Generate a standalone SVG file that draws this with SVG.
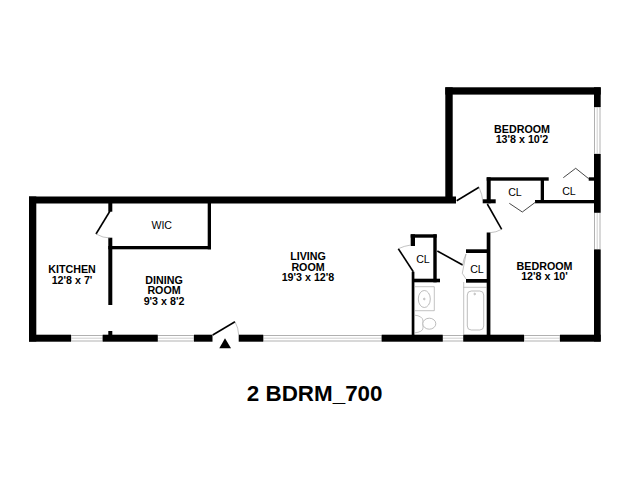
<svg xmlns="http://www.w3.org/2000/svg" width="640" height="480" viewBox="0 0 640 480">
<style>
.w{fill:#000}
.win{fill:#fff;stroke:#a8a8a8;stroke-width:.9}
.wl{stroke:#c4c4c4;stroke-width:.8;fill:none}
.d{stroke:#000;stroke-width:1.6;fill:none}
.a{stroke:#9a9a9a;stroke-width:.6;fill:none}
.c{stroke:#333;stroke-width:.9;fill:none}
.f{stroke:#a0a0a0;stroke-width:.7;fill:#fff}
text{font-family:"Liberation Sans",Arial,sans-serif;text-anchor:middle;fill:#000}
.l{font-size:10.700px;font-weight:bold}
.s{font-size:10.600px}
</style>
<rect width="640" height="480" fill="#fff"/>
<g id="windows">
<rect class="win" x="71" y="335.500" width="32" height="5.500"/><path class="wl" d="M71 338.200H103"/>
<rect class="win" x="157.500" y="335.500" width="36.500" height="5.500"/><path class="wl" d="M157.500 338.200H194"/>
<rect class="win" x="263" y="335.500" width="119" height="5.500"/><path class="wl" d="M263 338.200H382"/>
<rect class="win" x="442.500" y="335.500" width="21" height="5.500"/><path class="wl" d="M442.500 338.200H463.500"/>
<rect class="win" x="524" y="335.500" width="36" height="5.500"/><path class="wl" d="M524 338.200H560"/>
<rect class="win" x="594.500" y="107" width="5.500" height="47"/><path class="wl" d="M597.200 107V154"/>
<rect class="win" x="594.500" y="212.500" width="5.500" height="37"/><path class="wl" d="M597.200 212.500V249.500"/>
</g>
<g id="walls" class="w">
<rect x="29" y="196.500" width="427" height="7"/>
<rect x="29" y="196.500" width="7.300" height="145"/>
<rect x="29" y="334.700" width="42" height="7"/>
<rect x="102.700" y="334.700" width="55" height="7"/>
<rect x="194" y="334.700" width="18.500" height="7"/>
<rect x="238.700" y="334.700" width="24.500" height="7"/>
<rect x="381.700" y="334.700" width="61" height="7"/>
<rect x="463.300" y="334.700" width="60.700" height="7"/>
<rect x="560" y="334.700" width="40.700" height="7"/>
<rect x="445.300" y="87.300" width="155.400" height="7.300"/>
<rect x="445.300" y="87.300" width="7.400" height="112"/>
<rect x="594" y="87.300" width="6.700" height="19.700"/>
<rect x="594" y="154" width="6.700" height="58.700"/>
<rect x="594" y="249.500" width="6.700" height="92"/>
<rect x="108.300" y="203" width="4" height="8.700"/>
<rect x="108.300" y="237.700" width="4" height="67.300"/>
<rect x="108.300" y="331" width="4" height="5"/>
<rect x="108.300" y="246" width="102.700" height="3.300"/>
<rect x="207.700" y="203" width="3.300" height="46.300"/>
<rect x="486.700" y="177.300" width="4" height="26"/>
<rect x="482.700" y="199.300" width="13" height="4"/>
<rect x="486.700" y="177.300" width="62" height="3.400"/>
<rect x="540.700" y="180" width="3.300" height="23"/>
<rect x="535" y="200" width="59" height="3.300"/>
<rect x="588.700" y="177.300" width="5.300" height="3.400"/>
<rect x="486.700" y="232.500" width="3.700" height="103"/>
<rect x="410.700" y="234.300" width="26" height="3.400"/>
<rect x="410.700" y="234.300" width="4.300" height="11.700"/>
<rect x="433.300" y="234.300" width="3.400" height="48"/>
<rect x="413.300" y="278.700" width="26.700" height="3.600"/>
<rect x="411.700" y="271.700" width="2.700" height="64"/>
<rect x="466" y="249.300" width="22" height="3.700"/>
<rect x="466" y="279" width="22" height="3.700"/>
</g>
<g id="doors">
<path class="d" d="M110 211L96 234"/><path class="a" d="M96 234Q103 238 110 238"/>
<path class="d" d="M212.700 335L235 321.700"/><path class="a" d="M235 321.700Q238.500 328 238.700 335"/>
<path class="d" d="M456.700 200.700L479 187.300"/><path class="a" d="M479 187.300Q482.500 195 482.700 201"/>
<path class="d" d="M487.300 204L501.700 229.300"/><path class="a" d="M501.700 229.300Q496 232.500 490 232.700"/>
<path class="c" d="M535.700 202L522.300 212L509.300 203.300"/>
<path class="c" d="M588.700 178.700L575.700 168.300L563.300 177.700"/>
<path class="d" d="M398.300 248.700L413.300 271.700"/><path class="a" d="M410.700 245Q404 246 398.300 248.700"/>
<path class="d" d="M437.300 251L462.700 265"/><path class="a" d="M462.700 265Q463.500 259 466 254"/>
<path class="a" d="M466 254L464.500 262L462.300 273.300L466 279"/>
<path d="M219.300 348.300H231L225 338.300Z" fill="#000"/>
</g>
<g id="fixtures">
<path class="a" d="M463.700 282V335M463.700 287.300H487"/>
<rect class="f" x="467.300" y="291" width="16.400" height="39" rx="4"/>
<circle class="f" cx="474.700" cy="294" r=".8"/>
<path class="a" d="M414 286.700H434.300V310.700H414"/>
<ellipse class="f" cx="424.300" cy="299" rx="6" ry="8.500"/>
<circle class="f" cx="424.300" cy="299" r=".8"/>
<path class="a" d="M414 315Q423 316 423 321V328Q423 332 414 333"/>
<ellipse class="f" cx="429.300" cy="323.700" rx="6.500" ry="5.500"/>
</g>
<g id="labels">
<text class="l" x="522" y="132.700">BEDROOM</text><text class="l" x="522" y="143.300">13'8 x 10'2</text>
<text class="l" x="544.500" y="269.700">BEDROOM</text><text class="l" x="544.500" y="280.300">12'8 x 10'</text>
<text class="l" x="72" y="273.300">KITCHEN</text><text class="l" x="72" y="284">12'8 x 7'</text>
<text class="l" x="164" y="283.800">DINING</text><text class="l" x="164" y="294.400">ROOM</text><text class="l" x="164" y="305">9'3 x 8'2</text>
<text class="l" x="308" y="260">LIVING</text><text class="l" x="308" y="270.500">ROOM</text><text class="l" x="308" y="281">19'3 x 12'8</text>
<text class="s" x="161.700" y="228.500">WIC</text>
<text class="s" x="515" y="196">CL</text>
<text class="s" x="569" y="195">CL</text>
<text class="s" x="423" y="263">CL</text>
<text class="s" x="477" y="272.500">CL</text>
<text x="314.700" y="400.700" font-size="22.400" font-weight="bold">2 BDRM_700</text>
</g>
</svg>
